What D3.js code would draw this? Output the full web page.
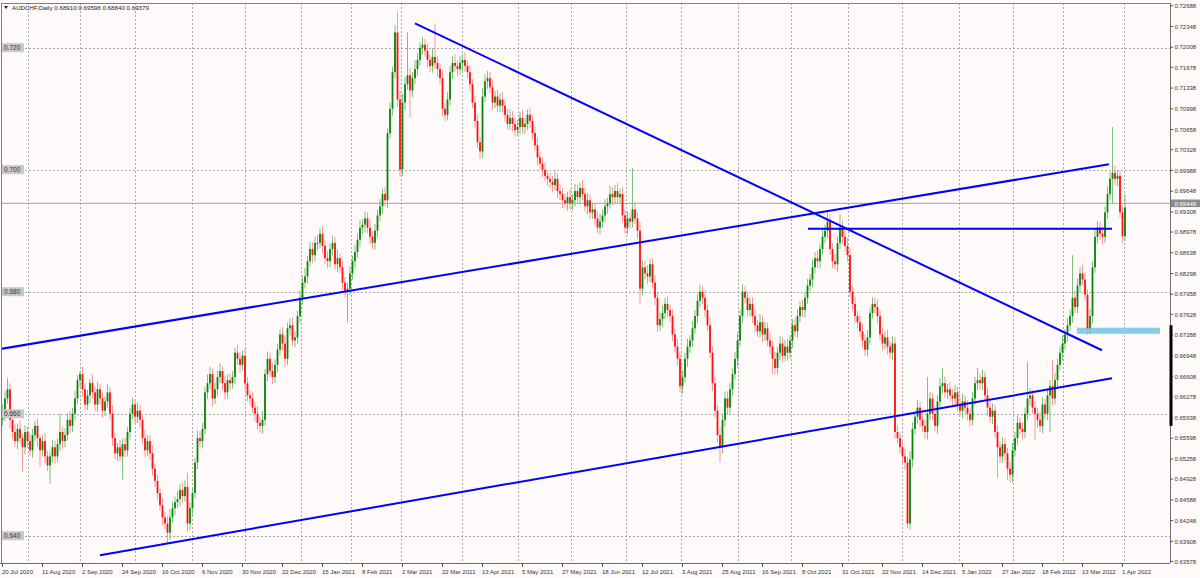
<!DOCTYPE html>
<html><head><meta charset="utf-8">
<script src="https://cdn.jsdelivr.net/npm/d3@7"></script>
<style>
body{margin:0;background:#fffafa;}
svg{display:block;font-family:"Liberation Sans",Arial,sans-serif;}
</style>
</head><body>
<svg id="chart" width="1200" height="578"></svg>
<script>
// ---------------- DATA (prices stored as price x 10000) ----------------
const symbolTitle = "AUDCHF,Daily";
const lastOHLC = ["0.68910", "0.69598", "0.68840", "0.69379"];
const firstOpen = 6590;
const closeRaw = [
6600,6625,6640,6590,6570,6555,6575,6560,6545,6570,
6555,6540,6565,6580,6560,6540,6555,6530,6515,6530,
6545,6530,6550,6570,6555,6565,6590,6580,6600,6625,
6655,6665,6640,6615,6630,6650,6635,6615,6640,6625,
6605,6620,6635,6600,6560,6535,6545,6530,6550,6540,
6570,6600,6615,6595,6605,6590,6560,6540,6555,6535,
6510,6490,6470,6450,6430,6420,6405,6430,6445,6455,
6460,6475,6465,6480,6420,6445,6470,6520,6560,6555,
6575,6635,6650,6665,6625,6640,6660,6670,6650,6635,
6655,6650,6660,6700,6690,6680,6695,6650,6630,6625,
6610,6600,6585,6580,6590,6665,6690,6670,6660,6680,
6705,6730,6715,6690,6740,6745,6720,6725,6760,6790,
6815,6825,6850,6870,6860,6880,6880,6895,6875,6855,
6850,6870,6880,6845,6855,6840,6815,6800,6805,6830,
6850,6865,6885,6905,6910,6920,6905,6890,6880,6900,
6925,6940,6960,6950,7060,7100,7160,7225,7115,7000,
7110,7140,7155,7130,7150,7165,7180,7200,7205,7195,
7180,7170,7185,7175,7165,7150,7100,7090,7115,7160,
7175,7170,7165,7175,7180,7170,7160,7140,7110,7080,
7045,7030,7120,7145,7150,7135,7110,7120,7105,7115,
7105,7090,7075,7085,7075,7065,7070,7085,7070,7075,
7090,7080,7060,7040,7020,7010,7000,6990,6985,6980,
6975,6985,6965,6960,6950,6945,6955,6945,6950,6965,
6955,6970,6960,6940,6950,6930,6935,6920,6905,6915,
6925,6940,6945,6960,6955,6965,6955,6960,6925,6905,
6920,6915,6935,6920,6900,6805,6840,6830,6825,6845,
6815,6790,6745,6755,6765,6780,6770,6760,6730,6710,
6690,6645,6660,6690,6710,6720,6740,6760,6785,6800,
6790,6770,6745,6700,6650,6605,6565,6545,6590,6625,
6610,6640,6665,6690,6720,6760,6800,6790,6770,6780,
6760,6745,6735,6750,6730,6740,6720,6710,6690,6675,
6700,6715,6695,6710,6700,6720,6745,6735,6760,6775,
6770,6790,6810,6820,6840,6855,6850,6870,6890,6900,
6915,6870,6850,6845,6880,6905,6890,6875,6860,6800,
6780,6760,6750,6735,6720,6705,6725,6765,6780,6775,
6760,6730,6715,6725,6710,6700,6715,6570,6560,6545,
6530,6520,6420,6525,6575,6595,6610,6590,6580,6570,
6600,6625,6600,6580,6620,6645,6650,6635,6640,6630,
6625,6635,6615,6605,6620,6610,6600,6590,6625,6650,
6655,6650,6660,6630,6610,6595,6605,6570,6545,6530,
6550,6535,6510,6500,6540,6560,6585,6575,6570,6600,
6625,6630,6610,6600,6590,6580,6615,6600,6630,6645,
6625,6655,6680,6700,6715,6730,6745,6760,6790,6775,
6810,6830,6820,6795,6740,6760,6840,6890,6905,6895,
6890,6930,6960,6985,6995,6985,6990,6930,6891,6938
];
const upWick = [
15,12,18,10,8,12,9,14,7,11, 9,13,10,8,12,6,10,14,9,8, 12,10,9,30,8,11,10,14,9,12,
8,5,12,10,9,7,14,10,12,9, 11,8,13,9,14,10,7,12,9,11, 8,10,12,9,13,10,8,14,9,10,
12,9,10,8,11,9,12,14,10,9, 13,10,12,11,23,9,10,8,12,11, 10,9,14,12,9,11,10,13,8,12,
9,11,10,8,13,10,9,12,10,8, 11,9,12,10,14,8,12,10,13,9, 10,8,12,14,9,11,13,10,9,12,
10,14,9,12,11,10,13,9,12,10, 11,9,12,10,14,8,11,9,10,12, 9,11,10,13,9,12,10,14,9,11,
10,12,9,11,8,10,9,12,34,15, 14,12,70,11,10,15,12,9,13,10, 12,9,14,55,11,10,13,9,12,10,
11,14,9,12,10,13,9,11,8,12, 10,9,14,11,12,10,13,9,11,10, 12,10,9,14,11,10,12,9,13,10,
9,12,10,11,13,9,10,12,9,11, 10,13,9,12,10,11,9,14,10,12, 11,9,13,10,12,9,11,10,12,13,
10,12,9,14,11,10,13,9,12,10, 11,9,68,12,10,14,11,10,13,9, 10,12,9,11,13,10,12,9,11,10,
12,9,11,10,13,9,12,10,11,12, 10,13,9,12,11,10,9,12,10,11, 12,10,9,11,13,10,12,9,11,10,
11,12,9,13,10,11,9,12,10,11, 9,12,10,11,13,9,10,12,11,9, 12,10,11,9,13,10,12,9,11,10,
15,12,9,11,10,23,12,10,13,11, 10,12,9,11,13,10,12,9,11,10, 12,9,11,10,13,9,12,10,11,9,
10,12,9,14,11,10,13,9,12,10, 60,11,9,12,10,13,25,11,9,12, 10,12,9,11,13,10,12,9,11,10,
20,11,12,9,13,10,12,9,11,10, 12,10,9,11,13,10,12,9,11,10, 60,12,9,11,10,13,12,9,11,10,
43,12,10,11,13,9,12,10,70,11, 12,10,14,11,9,12,10,13,11,9, 12,10,13,11,75,12,10,9,11,22
];
const downWick = [
10,12,9,14,11,10,13,9,40,12, 11,9,12,10,14,27,10,12,9,30, 10,12,9,11,13,10,9,12,10,11,
9,11,12,10,9,13,10,11,12,10, 12,9,11,10,13,10,12,9,38,11, 10,12,9,11,10,13,9,12,10,11,
12,10,11,9,13,10,17,12,9,11, 10,12,11,9,13,10,12,9,11,10, 12,9,11,10,13,9,12,10,11,12,
10,12,9,11,10,13,9,12,10,11, 9,12,10,11,13,9,12,10,11,10, 12,9,11,13,10,12,9,11,10,12,
11,10,12,9,13,10,11,9,12,10, 12,10,11,9,13,10,12,9,50,11, 10,12,9,11,10,13,9,12,10,11,
11,9,12,10,13,9,11,10,12,12, 10,12,9,45,11,10,12,9,11,10, 12,10,11,9,13,10,12,11,9,10,
11,9,12,10,13,10,11,12,9,11, 10,12,11,9,13,10,12,9,11,10, 11,12,9,10,13,11,9,12,10,11,
10,12,11,9,13,10,12,9,11,10, 12,9,11,10,13,9,12,10,11,10, 11,12,10,9,13,10,11,12,9,11,
10,11,12,9,13,10,11,9,12,10, 11,12,10,9,13,25,11,10,12,9, 10,12,11,9,13,10,12,9,11,10,
11,10,12,9,13,10,11,9,12,10, 11,12,10,9,13,11,12,25,10,11, 12,10,11,9,13,10,12,9,11,10,
11,12,9,10,13,11,9,12,25,11, 10,12,11,9,13,10,12,9,11,10, 11,12,10,9,13,10,11,12,9,10,
12,10,11,9,13,10,12,9,11,10, 11,12,10,9,13,10,11,12,9,10, 12,10,11,9,13,10,12,11,9,10,
11,12,8,10,13,9,11,12,10,11, 12,10,11,9,13,10,12,9,11,10, 11,12,10,9,13,10,11,12,9,10,
12,10,11,9,13,10,12,9,50,11, 10,12,18,12,13,10,11,9,12,10, 11,12,10,43,13,10,12,9,11,60,
12,10,11,9,13,10,12,9,11,10, 11,12,10,9,11,10,12,9,11,10, 12,10,11,9,40,10,12,9,11,7
];
const dateTickLabels = ["20 Jul 2020","11 Aug 2020","2 Sep 2020","24 Sep 2020","16 Oct 2020","6 Nov 2020",
"30 Nov 2020","22 Dec 2020","15 Jan 2021","8 Feb 2021","2 Mar 2021","22 Mar 2021","13 Apr 2021","5 May 2021",
"27 May 2021","18 Jun 2021","12 Jul 2021","3 Aug 2021","25 Aug 2021","16 Sep 2021","8 Oct 2021","31 Oct 2021",
"22 Nov 2021","14 Dec 2021","5 Jan 2022","27 Jan 2022","18 Feb 2022","13 Mar 2022","1 Apr 2022"];
const dateTickStep = 16; // bars between date labels
const monthGridBars = [10,31,53,76,97,119.5,139.5,159.5,184,206,227.5,249.5,271.5,294,315.5,338,360,382.5,404,424,448.5];
const priceGridLevels = [0.72, 0.70, 0.68, 0.66, 0.64];
const priceGridLabels = ["0.720", "0.700", "0.680", "0.660", "0.640"];
const priceAxisTicks = [0.72688,0.72348,0.72008,0.71678,0.71338,0.70998,0.70658,0.70328,0.69988,0.69648,
0.69308,0.68978,0.68638,0.68298,0.67958,0.67628,0.67288,0.66948,0.66608,0.66278,0.65938,0.65598,0.65258,
0.64928,0.64588,0.64248,0.63908,0.63578];
const priceAxisLabels = ["0.72688","0.72348","0.72008","0.71678","0.71338","0.70998","0.70658","0.70328","0.69988","0.69648",
"0.69308","0.68978","0.68638","0.68298","0.67958","0.67628","0.67288","0.66948","0.66608","0.66278","0.65938","0.65598","0.65258",
"0.64928","0.64588","0.64248","0.63908","0.63578"];
const bidPrice = 0.69449;
const bidLabel = "0.69449";
const trendLines = [
  {b1: -1,  p1: 0.6706, b2: 442.6, p2: 0.7009},   // upper channel
  {b1: 39,  p1: 0.6368, b2: 443.8, p2: 0.6658},   // lower channel
  {b1: 165, p1: 0.7240, b2: 439.8, p2: 0.6704}    // descending line
];
const levelLine = {b1: 322.2, b2: 443.8, p: 0.6903};
const zone = {b1: 429.8, b2: 463, p1: 0.6731, p2: 0.6741};
const axisMarker = {p1: 0.6745, p2: 0.6580};

// ---------------- DRAW ----------------
const W = 1200, H = 578;
const plotL = 1, plotR = 1170, plotT = 3, plotB = 563;
const svg = d3.select("#chart");
const n = closeRaw.length;
const x = d3.scaleLinear().domain([0, n - 1]).range([2.5, 2.5 + 2.5 * (n - 1)]);
const y = d3.scaleLinear().domain([0.64, 0.72]).range([535.7, 47.7]);

const bars = closeRaw.map((c, i) => {
  const o = i === 0 ? firstOpen : closeRaw[i - 1];
  const hi = Math.max(o, c) + upWick[i], lo = Math.min(o, c) - downWick[i];
  return {i, o: o / 1e4, c: c / 1e4, h: hi / 1e4, l: lo / 1e4};
});

svg.append("rect").attr("width", W).attr("height", H).attr("fill", "#fffafa");
svg.append("defs").append("clipPath").attr("id", "clip")
  .append("rect").attr("x", plotL).attr("y", plotT).attr("width", plotR - plotL).attr("height", plotB - plotT);

const plot = svg.append("g").attr("clip-path", "url(#clip)");

// grid
plot.selectAll(".hg").data(priceGridLevels).join("line")
  .attr("x1", plotL).attr("x2", plotR).attr("y1", d => Math.round(y(d)) + 0.5).attr("y2", d => Math.round(y(d)) + 0.5)
  .attr("stroke", "#a8a8a8").attr("stroke-dasharray", "2,2").attr("stroke-width", 1);
plot.selectAll(".vg").data(monthGridBars).join("line")
  .attr("x1", d => Math.round(x(d)) + 0.5).attr("x2", d => Math.round(x(d)) + 0.5).attr("y1", plotT).attr("y2", plotB)
  .attr("stroke", "#a8a8a8").attr("stroke-dasharray", "2,2").attr("stroke-width", 1);

// bid line
plot.append("line").attr("x1", plotL).attr("x2", plotR)
  .attr("y1", y(bidPrice)).attr("y2", y(bidPrice)).attr("stroke", "#a0a0a0").attr("stroke-width", 1);

// zone
plot.append("rect").attr("x", x(zone.b1)).attr("width", x(zone.b2) - x(zone.b1))
  .attr("y", y(zone.p2)).attr("height", y(zone.p1) - y(zone.p2)).attr("fill", "#87cee9");

// candles
const up = d => d.c >= d.o;
plot.selectAll(".wick").data(bars).join("line")
  .attr("x1", d => x(d.i)).attr("x2", d => x(d.i)).attr("y1", d => y(d.h)).attr("y2", d => y(d.l))
  .attr("stroke", d => up(d) ? "#7fbf7f" : "#f59a9a").attr("stroke-width", 1);
plot.selectAll(".body").data(bars).join("rect")
  .attr("x", d => x(d.i) - 0.9).attr("width", 1.8)
  .attr("y", d => y(Math.max(d.o, d.c)))
  .attr("height", d => Math.max(1, Math.abs(y(d.o) - y(d.c))))
  .attr("fill", d => up(d) ? "#0a850a" : "#ff1010");

// trend lines
plot.selectAll(".tl").data(trendLines).join("line")
  .attr("x1", d => x(d.b1)).attr("y1", d => y(d.p1)).attr("x2", d => x(d.b2)).attr("y2", d => y(d.p2))
  .attr("stroke", "#0000ff").attr("stroke-width", 2);
plot.append("line").attr("x1", x(levelLine.b1)).attr("x2", x(levelLine.b2))
  .attr("y1", y(levelLine.p)).attr("y2", y(levelLine.p)).attr("stroke", "#0000ff").attr("stroke-width", 2);

// left grid labels
const lg = svg.append("g");
priceGridLevels.forEach((p, k) => {
  lg.append("rect").attr("x", 2).attr("y", y(p) - 4.5).attr("width", 22).attr("height", 9).attr("fill", "#c8c8c8");
  lg.append("text").attr("x", 4).attr("y", y(p) + 2.2).attr("font-size", 6.5).attr("fill", "#333")
    .text(priceGridLabels[k]);
});

// frame
svg.append("line").attr("x1", plotL).attr("x2", plotR).attr("y1", plotT + 0.5).attr("y2", plotT + 0.5).attr("stroke", "#808080");
svg.append("line").attr("x1", plotL + 0.5).attr("x2", plotL + 0.5).attr("y1", plotT).attr("y2", plotB).attr("stroke", "#808080");
svg.append("line").attr("x1", 0).attr("x2", plotR).attr("y1", plotB + 0.5).attr("y2", plotB + 0.5).attr("stroke", "#707070");
svg.append("line").attr("x1", plotR + 0.5).attr("x2", plotR + 0.5).attr("y1", plotT).attr("y2", plotB).attr("stroke", "#707070");

// right axis
const ra = svg.append("g");
priceAxisTicks.forEach((p, k) => {
  ra.append("line").attr("x1", plotR).attr("x2", plotR + 3).attr("y1", y(p)).attr("y2", y(p)).attr("stroke", "#555");
  ra.append("text").attr("x", plotR + 4.5).attr("y", y(p) + 2.2).attr("font-size", 6).attr("fill", "#333").text(priceAxisLabels[k]);
});
ra.append("rect").attr("x", plotR - 0.5).attr("width", 3).attr("y", y(axisMarker.p1))
  .attr("height", y(axisMarker.p2) - y(axisMarker.p1)).attr("fill", "#000");
ra.append("rect").attr("x", plotR + 1).attr("y", y(bidPrice) - 3.8).attr("width", 29).attr("height", 7.6).attr("fill", "#8c8c8c");
ra.append("text").attr("x", plotR + 4.5).attr("y", y(bidPrice) + 2.2).attr("font-size", 6).attr("fill", "#fff").text(bidLabel);

// bottom axis
const ba = svg.append("g");
dateTickLabels.forEach((t, k) => {
  const xi = x(k * dateTickStep);
  ba.append("line").attr("x1", xi).attr("x2", xi).attr("y1", plotB).attr("y2", plotB + 4).attr("stroke", "#555");
  ba.append("text").attr("x", xi - 0.5).attr("y", plotB + 11).attr("font-size", 6).attr("fill", "#333").text(t);
});

// title
svg.append("path").attr("d", "M4,6 L8,6 L6,9 Z").attr("fill", "#222");
svg.append("text").attr("x", 12).attr("y", 9.5).attr("font-size", 6.2).attr("fill", "#222")
  .text(symbolTitle + "  " + lastOHLC.join(" "));
</script>
</body></html>
